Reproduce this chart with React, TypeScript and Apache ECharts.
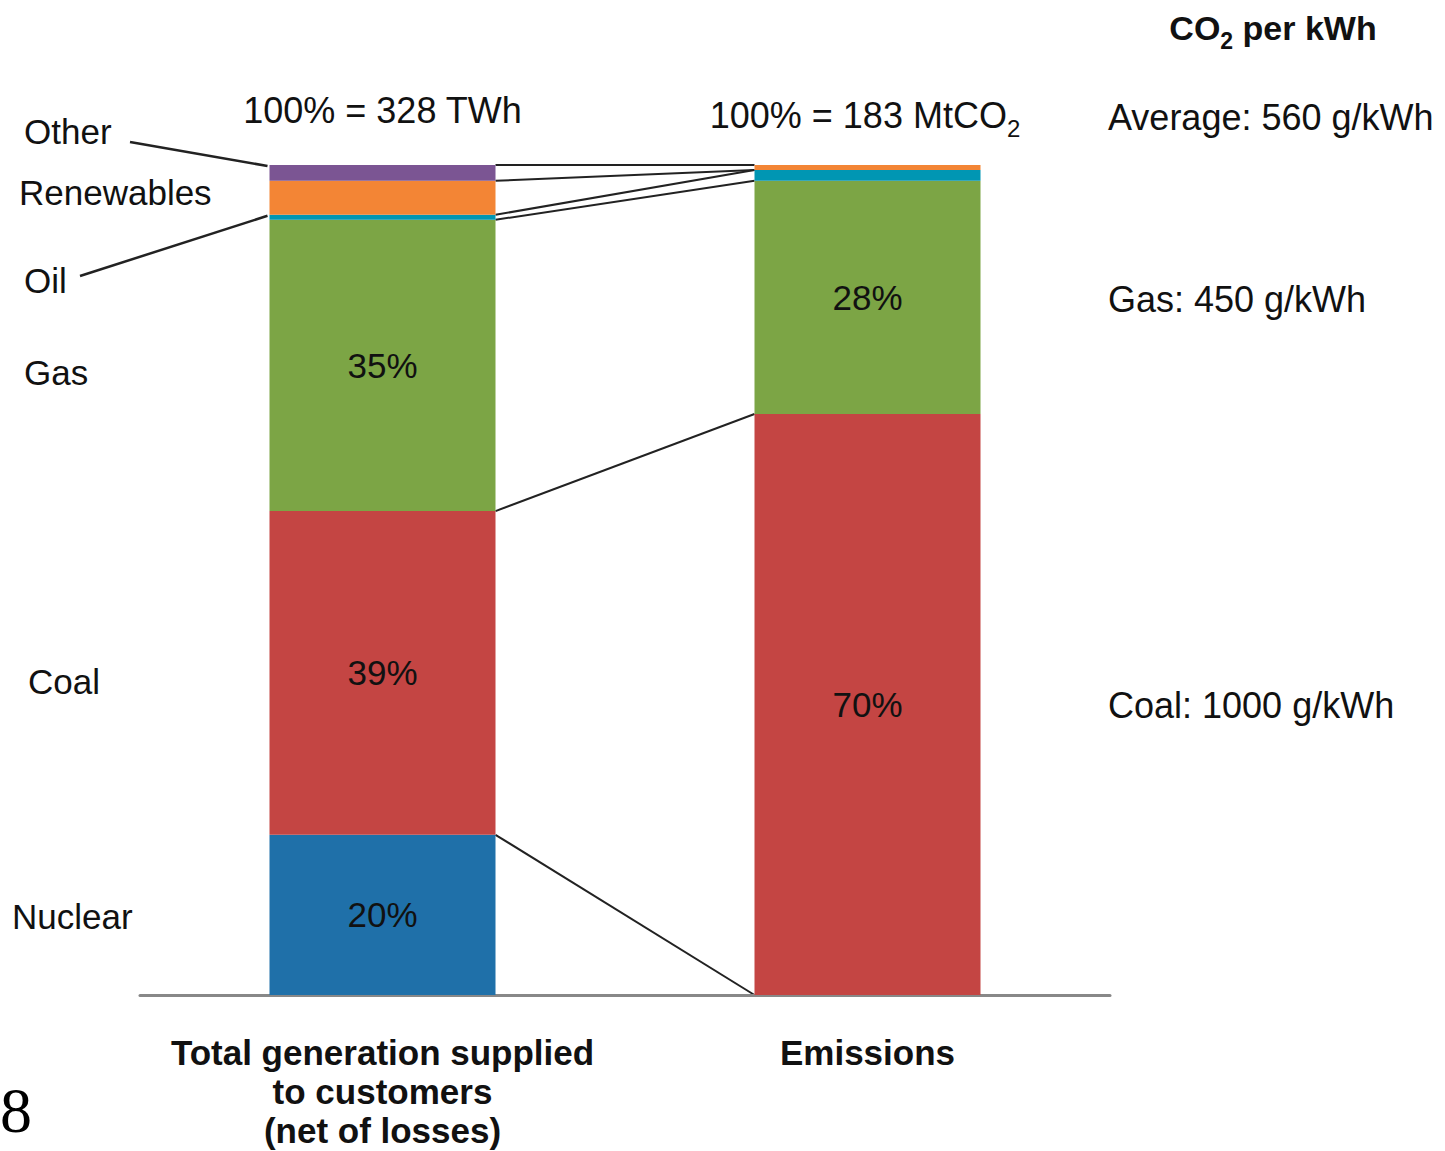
import React, { useEffect, useRef } from "react";
import * as echarts from "echarts";

const categories = ["Total generation supplied\nto customers\n(net of losses)", "Emissions"];
const sourceNames = ["Nuclear", "Coal", "Gas", "Oil", "Renewables", "Other"];
const nuclear = [19.3, 0];
const coal = [39.0, 70.0];
const gas = [35.1, 28.1];
const oil = [0.6, 1.3];
const renewables = [4.1, 0];
const other = [1.9, 0.6];
const nuclearLabels = ["20%", ""];
const coalLabels = ["39%", "70%"];
const gasLabels = ["35%", "28%"];
const totalLeft = "100% = 328 TWh";
const totalRightMain = "100% = 183 MtCO";
const intensityTitle = ["CO", "2", " per kWh"];
const intensityLabels = ["Average: 560 g/kWh", "Gas: 450 g/kWh", "Coal: 1000 g/kWh"];

const FONT = "'Liberation Sans', Arial, Helvetica, sans-serif";
const TXT = "#111111";
const colors = {
  Nuclear: "#1F70A9",
  Coal: "#C44543",
  Gas: "#7CA545",
  Oil: "#0096B3",
  Renewables: "#F38535",
  Other: "#7B5593",
};

const BAR_W = 226;

export default function App() {
  const ref = useRef<HTMLDivElement>(null);
  useEffect(() => {
    if (!ref.current) return;
    const chart = echarts.init(ref.current, undefined, { renderer: "svg" });
    const mk = (vals: number[], labels: string[] | null, overrides?: any[]) =>
      vals.map((v, i) => {
        const item: any = { value: v };
        if (labels && labels[i]) {
          item.label = { show: true, formatter: labels[i] };
        }
        if (overrides && overrides[i]) item.itemStyle = overrides[i];
        return item;
      });
    const seriesData: [string, number[], string[] | null, any[] | undefined][] = [
      ["Nuclear", nuclear, nuclearLabels, undefined],
      ["Coal", coal, coalLabels, undefined],
      ["Gas", gas, gasLabels, undefined],
      ["Oil", oil, null, undefined],
      ["Renewables", renewables, null, undefined],
      ["Other", other, null, [null, { color: colors.Renewables }]],
    ];
    chart.setOption({
      animation: false,
      grid: { left: 140, right: 335, top: 165, bottom: 156, outerBoundsMode: "none", containLabel: false },
      xAxis: {
        type: "category",
        data: categories,
        axisLine: { show: true, lineStyle: { color: "#888888", width: 3 } },
        axisTick: { show: false },
        axisLabel: {
          interval: 0,
          fontSize: 35,
          fontWeight: "bold",
          fontFamily: FONT,
          color: TXT,
          lineHeight: 39,
          margin: 38,
        },
      },
      yAxis: { type: "value", min: 0, max: 100, show: false, splitLine: { show: false } },
      series: seriesData.map(([name, vals, labels, ov]) => ({
        name,
        type: "bar",
        stack: "total",
        barWidth: BAR_W,
        itemStyle: { color: (colors as any)[name] },
        label: {
          show: false,
          position: "inside",
          fontSize: 35,
          fontFamily: FONT,
          color: TXT,
        },
        data: mk(vals, labels, ov),
      })),
    });

    const px = (i: number, v: number) =>
      chart.convertToPixel({ xAxisIndex: 0, yAxisIndex: 0 }, [i, v]) as number[];
    const stacks = [nuclear, coal, gas, oil, renewables, other];
    const cum = (i: number) => {
      let s = 0;
      return stacks.map((arr) => (s += arr[i]));
    };
    const c0 = cum(0);
    const c1 = cum(1);
    const half = BAR_W / 2;
    const x0 = px(0, 0)[0] + half;
    const x1 = px(1, 0)[0] - half;
    const xl = px(0, 0)[0] - half;
    const graphics: any[] = [];
    for (let k = 0; k < c0.length; k++) {
      graphics.push({
        type: "line",
        shape: { x1: x0, y1: px(0, c0[k])[1], x2: x1, y2: px(1, c1[k])[1] },
        style: { stroke: "#222", lineWidth: 2 },
      });
    }
    // leader lines
    graphics.push({
      type: "line",
      shape: { x1: 130, y1: 142, x2: xl - 2, y2: px(0, c0[5])[1] + 1 },
      style: { stroke: "#222", lineWidth: 2.5 },
    });
    graphics.push({
      type: "line",
      shape: { x1: 80, y1: 276, x2: xl - 2, y2: px(0, c0[3])[1] + 1 },
      style: { stroke: "#222", lineWidth: 2.5 },
    });
    const leftLabels: [string, number, number][] = [
      ["Other", 24, 131],
      ["Renewables", 19, 192],
      ["Oil", 24, 280],
      ["Gas", 24, 372],
      ["Coal", 28, 681],
      ["Nuclear", 12, 916],
    ];
    leftLabels.forEach(([t, x, y]) =>
      graphics.push({
        type: "text",
        x,
        y,
        style: { text: t, fontSize: 35, fontFamily: FONT, fill: TXT, align: "left", verticalAlign: "middle" },
      })
    );
    graphics.push({
      type: "text",
      x: px(0, 0)[0],
      y: 110,
      style: { text: totalLeft, fontSize: 36, fontFamily: FONT, fill: TXT, align: "center", verticalAlign: "middle" },
    });
    graphics.push({
      type: "text",
      x: 865,
      y: 115,
      style: {
        text: "{n|" + totalRightMain + "}{s|2}",
        align: "center",
        verticalAlign: "middle",
        rich: {
          n: { fontSize: 36, fontFamily: FONT, fill: TXT, lineHeight: 50 },
          s: { fontSize: 24, fontFamily: FONT, fill: TXT, lineHeight: 50, verticalAlign: "bottom" },
        },
      },
    });
    graphics.push({
      type: "text",
      x: 1273,
      y: 28,
      style: {
        text: "{n|" + intensityTitle[0] + "}{s|" + intensityTitle[1] + "}{n|" + intensityTitle[2] + "}",
        align: "center",
        verticalAlign: "middle",
        rich: {
          n: { fontSize: 34, fontWeight: "bold", fontFamily: FONT, fill: TXT, lineHeight: 48 },
          s: { fontSize: 23, fontWeight: "bold", fontFamily: FONT, fill: TXT, lineHeight: 48, verticalAlign: "bottom" },
        },
      },
    });
    const rightYs = [117, 299, 705];
    intensityLabels.forEach((t, i) =>
      graphics.push({
        type: "text",
        x: 1108,
        y: rightYs[i],
        style: { text: t, fontSize: 36, fontFamily: FONT, fill: TXT, align: "left", verticalAlign: "middle" },
      })
    );
    graphics.push({
      type: "text",
      x: 0,
      y: 1110,
      style: { text: "8", fontSize: 64, fontFamily: "'Liberation Serif', 'Times New Roman', serif", fill: "#000", align: "left", verticalAlign: "middle" },
    });
    chart.setOption({ graphic: graphics });
    return () => chart.dispose();
  }, []);
  return <div ref={ref} style={{ position: "absolute", left: 0, top: 0, width: 1445, height: 1151 }} />;
}
